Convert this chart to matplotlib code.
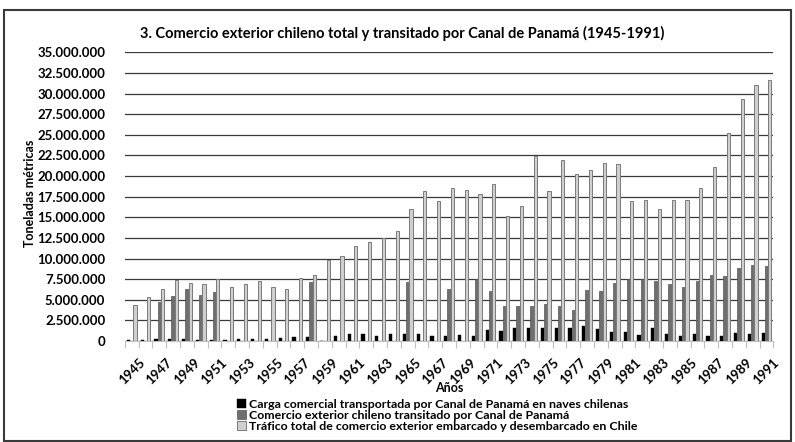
import numpy as np
import matplotlib
matplotlib.use("Agg")
import matplotlib.pyplot as plt
from matplotlib.patches import Rectangle
from matplotlib.ticker import FuncFormatter, FixedLocator, MultipleLocator

plt.rcParams['font.family'] = ['Lato', 'DejaVu Sans']

years = list(range(1945, 1992))

# Millions of metric tonnes
carga_naves_chilenas = [0.15, 0.10, 0.20, 0.20, 0.20, 0.10, 0.12, 0.10, 0.20, 0.30,
                        0.20, 0.35, 0.45, 0.45, 0.00, 0.56, 0.80, 0.89, 0.65, 0.89,
                        0.80, 0.80, 0.65, 0.65, 0.70, 0.65, 1.37, 1.20, 1.60, 1.53,
                        1.60, 1.53, 1.53, 1.85, 1.40, 1.13, 1.13, 0.70, 1.53, 0.80,
                        0.65, 0.89, 0.65, 0.65, 0.97, 0.89, 0.97]

comercio_canal = [np.nan, np.nan, 4.70, 5.50, 6.30, 5.60, 5.95, np.nan, np.nan, np.nan,
                  np.nan, np.nan, np.nan, 7.10, np.nan, np.nan, np.nan, np.nan, np.nan, np.nan,
                  7.10, np.nan, np.nan, 6.30, np.nan, 7.50, 6.05, 4.27, 4.22, 4.22,
                  4.50, 4.22, 3.70, 6.20, 6.05, 7.00, 7.57, 7.53, 7.26, 6.94,
                  6.53, 7.26, 7.98, 7.85, 8.90, 9.19, 9.10]

trafico_total = [4.40, 5.32, 6.25, 7.45, 7.00, 6.85, 7.55, 6.57, 6.94, 7.26,
                 6.53, 6.29, 7.66, 7.98, 9.84, 10.35, 11.57, 11.95, 12.47, 13.28,
                 16.06, 18.17, 17.02, 18.57, 18.35, 17.77, 19.08, 15.20, 16.40, 22.40,
                 18.23, 22.00, 20.30, 20.70, 21.60, 21.40, 17.00, 17.10, 15.97, 17.10,
                 17.10, 18.55, 21.10, 25.16, 29.35, 31.05, 31.70]

series_labels = ["Carga comercial transportada por Canal de Panamá en naves chilenas",
                 "Comercio exterior chileno transitado por Canal de Panamá",
                 "Tráfico total de comercio exterior embarcado y desembarcado en Chile"]

title = "3. Comercio exterior chileno total y transitado por Canal de Panamá (1945-1991)"
y_max = 35_000_000
y_step = 2_500_000

W, H = 795, 442
ax_l, ax_r, ax_t, ax_b = 124.8, 773.4, 52.3, 341.0
fig = plt.figure(figsize=(W / 100, H / 100), dpi=100)
ax = fig.add_axes([ax_l / W, (H - ax_b) / H, (ax_r - ax_l) / W, (ax_b - ax_t) / H])

x = np.arange(len(years))
bw = 0.24
scale = 1e6
ax.bar(x - bw, np.array(carga_naves_chilenas) * scale, width=bw, color='#000000',
       edgecolor='#000000', linewidth=0.3, label=series_labels[0], zorder=3)
ax.bar(x, np.array(comercio_canal) * scale, width=bw, color='#6f6f6f',
       edgecolor='#555555', linewidth=0.5, label=series_labels[1], zorder=3)
ax.bar(x + bw, np.array(trafico_total) * scale, width=bw, color='#cfcfcf',
       edgecolor='#7a7a7a', linewidth=0.7, label=series_labels[2], zorder=3)

ax.set_xlim(-0.5, len(years) - 0.5)
ax.set_ylim(0, y_max)
ax.yaxis.set_major_locator(MultipleLocator(y_step))
ax.yaxis.set_major_formatter(FuncFormatter(lambda v, p: f"{v:,.0f}".replace(",", ".")))
ax.grid(axis='y', color='#3a3a3a', linewidth=0.9, zorder=0)
ax.set_axisbelow(True)

tick_idx = x[::2]
ax.set_xticks(tick_idx)
ax.set_xticklabels([str(years[i]) for i in tick_idx], rotation=45, ha='center',
                   fontsize=9.5, fontweight='bold')
ax.xaxis.set_minor_locator(FixedLocator(np.arange(-0.5, len(years), 1.0)))
ax.tick_params(axis='x', which='major', length=0, pad=11)
ax.tick_params(axis='x', which='minor', length=5, color='#c0c0c0', width=0.8)
ax.tick_params(axis='y', length=0, pad=14, labelsize=9.5)
for lab in ax.get_yticklabels():
    lab.set_fontweight('bold')

for s in ['top', 'right', 'left']:
    ax.spines[s].set_visible(False)
ax.spines['bottom'].set_color('#c0c0c0')
ax.spines['bottom'].set_linewidth(0.8)

ax_w, ax_h = ax_r - ax_l, ax_b - ax_t
ax.set_title(title, fontsize=10.5, fontweight='bold', pad=10, x=(402 - ax_l) / ax_w)
ax.set_xlabel('Años', fontsize=9, fontweight='bold', va='center')
ax.xaxis.set_label_coords(0.5, (ax_b - 388) / ax_h)
ax.set_ylabel('Toneladas métricas', fontsize=9, fontweight='bold', va='center')
ax.yaxis.set_label_coords((30 - ax_l) / ax_w, (ax_b - 193) / ax_h)

leg = fig.legend(loc='upper left', bbox_to_anchor=(237 / W, (H - 399) / H),
                 frameon=False, fontsize=8.9, handlelength=0.7, handleheight=0.7,
                 handletextpad=0.3, labelspacing=0.0, borderaxespad=0, borderpad=0)
for t in leg.get_texts():
    t.set_fontweight('bold')

fig.patches.append(Rectangle((4 / W, 1 / H), (791 - 4) / W, (432 - 1) / H,
                             transform=fig.transFigure, fill=False,
                             edgecolor='#3a3a3a', linewidth=1.5))

fig.savefig('out.png', dpi=100)
